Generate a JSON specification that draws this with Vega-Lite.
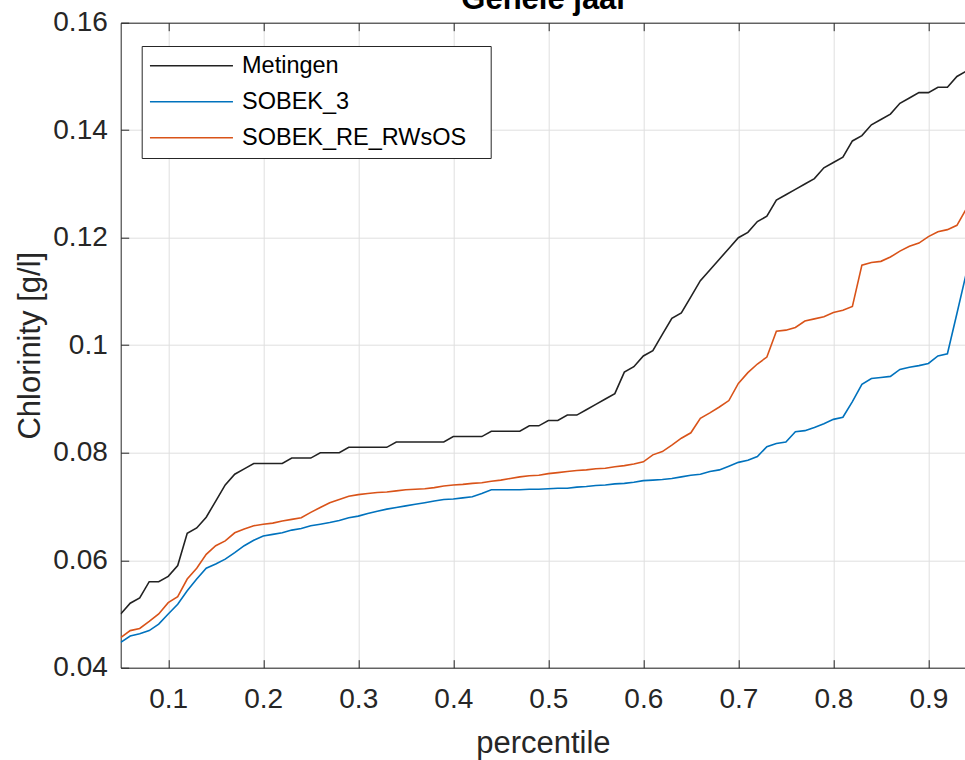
{
  "$schema": "https://vega.github.io/schema/vega-lite/v6.json",
  "width": 844.3,
  "height": 645,
  "autosize": {"type": "none"},
  "padding": {"left": 120.7, "top": 22.7, "right": 0, "bottom": 92.3},
  "background": "white",
  "config": {
    "view": {"stroke": null},
    "font": "Liberation Sans",
    "axis": {
      "labelFont": "Liberation Sans",
      "titleFont": "Liberation Sans",
      "labelColor": "#262626",
      "titleColor": "#262626",
      "domainColor": "#262626",
      "tickColor": "#262626",
      "domainWidth": 1,
      "tickWidth": 1,
      "gridColor": "#dfdfdf",
      "gridWidth": 1,
      "titleFontWeight": "normal"
    }
  },
  "title": {
    "text": "Gehele jaar",
    "font": "Liberation Sans",
    "fontSize": 31,
    "fontWeight": "bold",
    "color": "#000000",
    "anchor": "middle",
    "frame": "group",
    "baseline": "alphabetic",
    "offset": -31,
    "dx": 2
  },
  "data": {
    "values": [
      {"p":0.05,"s":"Metingen","v":0.050},{"p":0.06,"s":"Metingen","v":0.052},{"p":0.07,"s":"Metingen","v":0.053},{"p":0.08,"s":"Metingen","v":0.056},{"p":0.09,"s":"Metingen","v":0.056},
      {"p":0.10,"s":"Metingen","v":0.057},{"p":0.11,"s":"Metingen","v":0.059},{"p":0.12,"s":"Metingen","v":0.065},{"p":0.13,"s":"Metingen","v":0.066},{"p":0.14,"s":"Metingen","v":0.068},
      {"p":0.15,"s":"Metingen","v":0.071},{"p":0.16,"s":"Metingen","v":0.074},{"p":0.17,"s":"Metingen","v":0.076},{"p":0.18,"s":"Metingen","v":0.077},{"p":0.19,"s":"Metingen","v":0.078},
      {"p":0.20,"s":"Metingen","v":0.078},{"p":0.21,"s":"Metingen","v":0.078},{"p":0.22,"s":"Metingen","v":0.078},{"p":0.23,"s":"Metingen","v":0.079},{"p":0.24,"s":"Metingen","v":0.079},
      {"p":0.25,"s":"Metingen","v":0.079},{"p":0.26,"s":"Metingen","v":0.080},{"p":0.27,"s":"Metingen","v":0.080},{"p":0.28,"s":"Metingen","v":0.080},{"p":0.29,"s":"Metingen","v":0.081},
      {"p":0.30,"s":"Metingen","v":0.081},{"p":0.31,"s":"Metingen","v":0.081},{"p":0.32,"s":"Metingen","v":0.081},{"p":0.33,"s":"Metingen","v":0.081},{"p":0.34,"s":"Metingen","v":0.082},
      {"p":0.35,"s":"Metingen","v":0.082},{"p":0.36,"s":"Metingen","v":0.082},{"p":0.37,"s":"Metingen","v":0.082},{"p":0.38,"s":"Metingen","v":0.082},{"p":0.39,"s":"Metingen","v":0.082},
      {"p":0.40,"s":"Metingen","v":0.083},{"p":0.41,"s":"Metingen","v":0.083},{"p":0.42,"s":"Metingen","v":0.083},{"p":0.43,"s":"Metingen","v":0.083},{"p":0.44,"s":"Metingen","v":0.084},
      {"p":0.45,"s":"Metingen","v":0.084},{"p":0.46,"s":"Metingen","v":0.084},{"p":0.47,"s":"Metingen","v":0.084},{"p":0.48,"s":"Metingen","v":0.085},{"p":0.49,"s":"Metingen","v":0.085},
      {"p":0.50,"s":"Metingen","v":0.086},{"p":0.51,"s":"Metingen","v":0.086},{"p":0.52,"s":"Metingen","v":0.087},{"p":0.53,"s":"Metingen","v":0.087},{"p":0.54,"s":"Metingen","v":0.088},
      {"p":0.55,"s":"Metingen","v":0.089},{"p":0.56,"s":"Metingen","v":0.090},{"p":0.57,"s":"Metingen","v":0.091},{"p":0.58,"s":"Metingen","v":0.095},{"p":0.59,"s":"Metingen","v":0.096},
      {"p":0.60,"s":"Metingen","v":0.098},{"p":0.61,"s":"Metingen","v":0.099},{"p":0.62,"s":"Metingen","v":0.102},{"p":0.63,"s":"Metingen","v":0.105},{"p":0.64,"s":"Metingen","v":0.106},
      {"p":0.65,"s":"Metingen","v":0.109},{"p":0.66,"s":"Metingen","v":0.112},{"p":0.67,"s":"Metingen","v":0.114},{"p":0.68,"s":"Metingen","v":0.116},{"p":0.69,"s":"Metingen","v":0.118},
      {"p":0.70,"s":"Metingen","v":0.120},{"p":0.71,"s":"Metingen","v":0.121},{"p":0.72,"s":"Metingen","v":0.123},{"p":0.73,"s":"Metingen","v":0.124},{"p":0.74,"s":"Metingen","v":0.127},
      {"p":0.75,"s":"Metingen","v":0.128},{"p":0.76,"s":"Metingen","v":0.129},{"p":0.77,"s":"Metingen","v":0.130},{"p":0.78,"s":"Metingen","v":0.131},{"p":0.79,"s":"Metingen","v":0.133},
      {"p":0.80,"s":"Metingen","v":0.134},{"p":0.81,"s":"Metingen","v":0.135},{"p":0.82,"s":"Metingen","v":0.138},{"p":0.83,"s":"Metingen","v":0.139},{"p":0.84,"s":"Metingen","v":0.141},
      {"p":0.85,"s":"Metingen","v":0.142},{"p":0.86,"s":"Metingen","v":0.143},{"p":0.87,"s":"Metingen","v":0.145},{"p":0.88,"s":"Metingen","v":0.146},{"p":0.89,"s":"Metingen","v":0.147},
      {"p":0.90,"s":"Metingen","v":0.147},{"p":0.91,"s":"Metingen","v":0.148},{"p":0.92,"s":"Metingen","v":0.148},{"p":0.93,"s":"Metingen","v":0.150},{"p":0.94,"s":"Metingen","v":0.151},

      {"p":0.05,"s":"SOBEK_3","v":0.0447},{"p":0.06,"s":"SOBEK_3","v":0.0459},{"p":0.07,"s":"SOBEK_3","v":0.0463},{"p":0.08,"s":"SOBEK_3","v":0.0469},{"p":0.09,"s":"SOBEK_3","v":0.0481},
      {"p":0.10,"s":"SOBEK_3","v":0.0500},{"p":0.11,"s":"SOBEK_3","v":0.0518},{"p":0.12,"s":"SOBEK_3","v":0.0543},{"p":0.13,"s":"SOBEK_3","v":0.0565},{"p":0.14,"s":"SOBEK_3","v":0.0585},
      {"p":0.15,"s":"SOBEK_3","v":0.0593},{"p":0.16,"s":"SOBEK_3","v":0.0602},{"p":0.17,"s":"SOBEK_3","v":0.0614},{"p":0.18,"s":"SOBEK_3","v":0.0627},{"p":0.19,"s":"SOBEK_3","v":0.0637},
      {"p":0.20,"s":"SOBEK_3","v":0.0645},{"p":0.21,"s":"SOBEK_3","v":0.0648},{"p":0.22,"s":"SOBEK_3","v":0.0651},{"p":0.23,"s":"SOBEK_3","v":0.0656},{"p":0.24,"s":"SOBEK_3","v":0.0659},
      {"p":0.25,"s":"SOBEK_3","v":0.0664},{"p":0.26,"s":"SOBEK_3","v":0.0667},{"p":0.27,"s":"SOBEK_3","v":0.0670},{"p":0.28,"s":"SOBEK_3","v":0.0674},{"p":0.29,"s":"SOBEK_3","v":0.0679},
      {"p":0.30,"s":"SOBEK_3","v":0.0682},{"p":0.31,"s":"SOBEK_3","v":0.0687},{"p":0.32,"s":"SOBEK_3","v":0.0691},{"p":0.33,"s":"SOBEK_3","v":0.0695},{"p":0.34,"s":"SOBEK_3","v":0.0698},
      {"p":0.35,"s":"SOBEK_3","v":0.0701},{"p":0.36,"s":"SOBEK_3","v":0.0704},{"p":0.37,"s":"SOBEK_3","v":0.0707},{"p":0.38,"s":"SOBEK_3","v":0.0710},{"p":0.39,"s":"SOBEK_3","v":0.0713},
      {"p":0.40,"s":"SOBEK_3","v":0.0714},{"p":0.41,"s":"SOBEK_3","v":0.0716},{"p":0.42,"s":"SOBEK_3","v":0.0718},{"p":0.43,"s":"SOBEK_3","v":0.0724},{"p":0.44,"s":"SOBEK_3","v":0.0731},
      {"p":0.45,"s":"SOBEK_3","v":0.0731},{"p":0.46,"s":"SOBEK_3","v":0.0731},{"p":0.47,"s":"SOBEK_3","v":0.0731},{"p":0.48,"s":"SOBEK_3","v":0.0732},{"p":0.49,"s":"SOBEK_3","v":0.0732},
      {"p":0.50,"s":"SOBEK_3","v":0.0733},{"p":0.51,"s":"SOBEK_3","v":0.0734},{"p":0.52,"s":"SOBEK_3","v":0.0734},{"p":0.53,"s":"SOBEK_3","v":0.0736},{"p":0.54,"s":"SOBEK_3","v":0.0737},
      {"p":0.55,"s":"SOBEK_3","v":0.0739},{"p":0.56,"s":"SOBEK_3","v":0.0740},{"p":0.57,"s":"SOBEK_3","v":0.0742},{"p":0.58,"s":"SOBEK_3","v":0.0743},{"p":0.59,"s":"SOBEK_3","v":0.0745},
      {"p":0.60,"s":"SOBEK_3","v":0.0748},{"p":0.61,"s":"SOBEK_3","v":0.0749},{"p":0.62,"s":"SOBEK_3","v":0.0750},{"p":0.63,"s":"SOBEK_3","v":0.0752},{"p":0.64,"s":"SOBEK_3","v":0.0755},
      {"p":0.65,"s":"SOBEK_3","v":0.0758},{"p":0.66,"s":"SOBEK_3","v":0.0760},{"p":0.67,"s":"SOBEK_3","v":0.0765},{"p":0.68,"s":"SOBEK_3","v":0.0768},{"p":0.69,"s":"SOBEK_3","v":0.0775},
      {"p":0.70,"s":"SOBEK_3","v":0.0782},{"p":0.71,"s":"SOBEK_3","v":0.0786},{"p":0.72,"s":"SOBEK_3","v":0.0793},{"p":0.73,"s":"SOBEK_3","v":0.0811},{"p":0.74,"s":"SOBEK_3","v":0.0817},
      {"p":0.75,"s":"SOBEK_3","v":0.0820},{"p":0.76,"s":"SOBEK_3","v":0.0839},{"p":0.77,"s":"SOBEK_3","v":0.0841},{"p":0.78,"s":"SOBEK_3","v":0.0847},{"p":0.79,"s":"SOBEK_3","v":0.0854},
      {"p":0.80,"s":"SOBEK_3","v":0.0862},{"p":0.81,"s":"SOBEK_3","v":0.0866},{"p":0.82,"s":"SOBEK_3","v":0.0895},{"p":0.83,"s":"SOBEK_3","v":0.0927},{"p":0.84,"s":"SOBEK_3","v":0.0938},
      {"p":0.85,"s":"SOBEK_3","v":0.0940},{"p":0.86,"s":"SOBEK_3","v":0.0942},{"p":0.87,"s":"SOBEK_3","v":0.0955},{"p":0.88,"s":"SOBEK_3","v":0.0959},{"p":0.89,"s":"SOBEK_3","v":0.0962},
      {"p":0.90,"s":"SOBEK_3","v":0.0966},{"p":0.91,"s":"SOBEK_3","v":0.0980},{"p":0.92,"s":"SOBEK_3","v":0.0984},{"p":0.93,"s":"SOBEK_3","v":0.1059},{"p":0.94,"s":"SOBEK_3","v":0.1135},

      {"p":0.05,"s":"SOBEK_RE_RWsOS","v":0.0456},{"p":0.06,"s":"SOBEK_RE_RWsOS","v":0.0469},{"p":0.07,"s":"SOBEK_RE_RWsOS","v":0.0473},{"p":0.08,"s":"SOBEK_RE_RWsOS","v":0.0486},{"p":0.09,"s":"SOBEK_RE_RWsOS","v":0.0500},
      {"p":0.10,"s":"SOBEK_RE_RWsOS","v":0.0521},{"p":0.11,"s":"SOBEK_RE_RWsOS","v":0.0532},{"p":0.12,"s":"SOBEK_RE_RWsOS","v":0.0565},{"p":0.13,"s":"SOBEK_RE_RWsOS","v":0.0585},{"p":0.14,"s":"SOBEK_RE_RWsOS","v":0.0611},
      {"p":0.15,"s":"SOBEK_RE_RWsOS","v":0.0627},{"p":0.16,"s":"SOBEK_RE_RWsOS","v":0.0636},{"p":0.17,"s":"SOBEK_RE_RWsOS","v":0.0651},{"p":0.18,"s":"SOBEK_RE_RWsOS","v":0.0658},{"p":0.19,"s":"SOBEK_RE_RWsOS","v":0.0664},
      {"p":0.20,"s":"SOBEK_RE_RWsOS","v":0.0667},{"p":0.21,"s":"SOBEK_RE_RWsOS","v":0.0669},{"p":0.22,"s":"SOBEK_RE_RWsOS","v":0.0673},{"p":0.23,"s":"SOBEK_RE_RWsOS","v":0.0676},{"p":0.24,"s":"SOBEK_RE_RWsOS","v":0.0679},
      {"p":0.25,"s":"SOBEK_RE_RWsOS","v":0.0689},{"p":0.26,"s":"SOBEK_RE_RWsOS","v":0.0698},{"p":0.27,"s":"SOBEK_RE_RWsOS","v":0.0707},{"p":0.28,"s":"SOBEK_RE_RWsOS","v":0.0713},{"p":0.29,"s":"SOBEK_RE_RWsOS","v":0.0719},
      {"p":0.30,"s":"SOBEK_RE_RWsOS","v":0.0722},{"p":0.31,"s":"SOBEK_RE_RWsOS","v":0.0724},{"p":0.32,"s":"SOBEK_RE_RWsOS","v":0.0726},{"p":0.33,"s":"SOBEK_RE_RWsOS","v":0.0727},{"p":0.34,"s":"SOBEK_RE_RWsOS","v":0.0729},
      {"p":0.35,"s":"SOBEK_RE_RWsOS","v":0.0731},{"p":0.36,"s":"SOBEK_RE_RWsOS","v":0.0732},{"p":0.37,"s":"SOBEK_RE_RWsOS","v":0.0733},{"p":0.38,"s":"SOBEK_RE_RWsOS","v":0.0735},{"p":0.39,"s":"SOBEK_RE_RWsOS","v":0.0738},
      {"p":0.40,"s":"SOBEK_RE_RWsOS","v":0.0740},{"p":0.41,"s":"SOBEK_RE_RWsOS","v":0.0741},{"p":0.42,"s":"SOBEK_RE_RWsOS","v":0.0743},{"p":0.43,"s":"SOBEK_RE_RWsOS","v":0.0744},{"p":0.44,"s":"SOBEK_RE_RWsOS","v":0.0747},
      {"p":0.45,"s":"SOBEK_RE_RWsOS","v":0.0749},{"p":0.46,"s":"SOBEK_RE_RWsOS","v":0.0752},{"p":0.47,"s":"SOBEK_RE_RWsOS","v":0.0755},{"p":0.48,"s":"SOBEK_RE_RWsOS","v":0.0757},{"p":0.49,"s":"SOBEK_RE_RWsOS","v":0.0758},
      {"p":0.50,"s":"SOBEK_RE_RWsOS","v":0.0761},{"p":0.51,"s":"SOBEK_RE_RWsOS","v":0.0763},{"p":0.52,"s":"SOBEK_RE_RWsOS","v":0.0765},{"p":0.53,"s":"SOBEK_RE_RWsOS","v":0.0767},{"p":0.54,"s":"SOBEK_RE_RWsOS","v":0.0768},
      {"p":0.55,"s":"SOBEK_RE_RWsOS","v":0.0770},{"p":0.56,"s":"SOBEK_RE_RWsOS","v":0.0771},{"p":0.57,"s":"SOBEK_RE_RWsOS","v":0.0774},{"p":0.58,"s":"SOBEK_RE_RWsOS","v":0.0776},{"p":0.59,"s":"SOBEK_RE_RWsOS","v":0.0779},
      {"p":0.60,"s":"SOBEK_RE_RWsOS","v":0.0783},{"p":0.61,"s":"SOBEK_RE_RWsOS","v":0.0796},{"p":0.62,"s":"SOBEK_RE_RWsOS","v":0.0802},{"p":0.63,"s":"SOBEK_RE_RWsOS","v":0.0814},{"p":0.64,"s":"SOBEK_RE_RWsOS","v":0.0827},
      {"p":0.65,"s":"SOBEK_RE_RWsOS","v":0.0837},{"p":0.66,"s":"SOBEK_RE_RWsOS","v":0.0864},{"p":0.67,"s":"SOBEK_RE_RWsOS","v":0.0874},{"p":0.68,"s":"SOBEK_RE_RWsOS","v":0.0885},{"p":0.69,"s":"SOBEK_RE_RWsOS","v":0.0897},
      {"p":0.70,"s":"SOBEK_RE_RWsOS","v":0.0929},{"p":0.71,"s":"SOBEK_RE_RWsOS","v":0.0949},{"p":0.72,"s":"SOBEK_RE_RWsOS","v":0.0965},{"p":0.73,"s":"SOBEK_RE_RWsOS","v":0.0978},{"p":0.74,"s":"SOBEK_RE_RWsOS","v":0.1026},
      {"p":0.75,"s":"SOBEK_RE_RWsOS","v":0.1028},{"p":0.76,"s":"SOBEK_RE_RWsOS","v":0.1033},{"p":0.77,"s":"SOBEK_RE_RWsOS","v":0.1045},{"p":0.78,"s":"SOBEK_RE_RWsOS","v":0.1049},{"p":0.79,"s":"SOBEK_RE_RWsOS","v":0.1053},
      {"p":0.80,"s":"SOBEK_RE_RWsOS","v":0.1061},{"p":0.81,"s":"SOBEK_RE_RWsOS","v":0.1065},{"p":0.82,"s":"SOBEK_RE_RWsOS","v":0.1072},{"p":0.83,"s":"SOBEK_RE_RWsOS","v":0.1149},{"p":0.84,"s":"SOBEK_RE_RWsOS","v":0.1154},
      {"p":0.85,"s":"SOBEK_RE_RWsOS","v":0.1156},{"p":0.86,"s":"SOBEK_RE_RWsOS","v":0.1164},{"p":0.87,"s":"SOBEK_RE_RWsOS","v":0.1175},{"p":0.88,"s":"SOBEK_RE_RWsOS","v":0.1184},{"p":0.89,"s":"SOBEK_RE_RWsOS","v":0.1190},
      {"p":0.90,"s":"SOBEK_RE_RWsOS","v":0.1202},{"p":0.91,"s":"SOBEK_RE_RWsOS","v":0.1211},{"p":0.92,"s":"SOBEK_RE_RWsOS","v":0.1215},{"p":0.93,"s":"SOBEK_RE_RWsOS","v":0.1223},{"p":0.94,"s":"SOBEK_RE_RWsOS","v":0.1254}
    ]
  },
  "resolve": {"axis": {"x": "independent"}},
  "layer": [
    {
      "mark": {"type": "line", "strokeWidth": 1.6, "clip": true},
      "encoding": {
        "x": {
          "field": "p", "type": "quantitative",
          "scale": {"domain": [0.05, 0.9385], "nice": false, "zero": false},
          "axis": {
            "orient": "bottom",
            "values": [0.1, 0.2, 0.3, 0.4, 0.5, 0.6, 0.7, 0.8, 0.9],
            "format": ".1f",
            "labelFontSize": 28,
            "tickSize": -8,
            "labelPadding": 26,
            "grid": true,
            "title": "percentile",
            "titleFontSize": 31,
            "titlePadding": 15
          }
        },
        "y": {
          "field": "v", "type": "quantitative",
          "scale": {"domain": [0.04, 0.16], "nice": false, "zero": false},
          "axis": {
            "values": [0.04, 0.06, 0.08, 0.1, 0.12, 0.14, 0.16],
            "format": ".2~f",
            "labelFontSize": 28,
            "tickSize": -8,
            "labelPadding": 21.4,
            "grid": true,
            "title": "Chlorinity [g/l]",
            "titleFontSize": 31,
            "titlePadding": 6
          }
        },
        "color": {
          "field": "s", "type": "nominal",
          "scale": {"domain": ["Metingen", "SOBEK_3", "SOBEK_RE_RWsOS"], "range": ["#222222", "#0072BD", "#D95319"]},
          "legend": {
            "orient": "none",
            "legendX": 21,
            "legendY": 23.3,
            "title": " ",
            "titleOrient": "right",
            "titleFontSize": 24,
            "titlePadding": 17,
            "labelFont": "Liberation Sans",
            "labelFontSize": 23.5,
            "labelLimit": 400,
            "labelColor": "#000000",
            "symbolType": "M-1.15,0H7.15",
            "symbolSize": 400,
            "symbolStrokeWidth": 1.6,
            "strokeColor": "#262626",
            "fillColor": "#ffffff",
            "padding": 8,
            "rowPadding": 11,
            "labelOffset": 68.8,
            "cornerRadius": 0
          }
        }
      }
    },
    {
      "mark": {"type": "rule", "opacity": 0},
      "encoding": {
        "x": {
          "field": "p", "type": "quantitative",
          "axis": {
            "orient": "top",
            "values": [0.1, 0.2, 0.3, 0.4, 0.5, 0.6, 0.7, 0.8, 0.9],
            "labels": false,
            "tickSize": -8,
            "grid": false,
            "title": null
          }
        }
      }
    }
  ]
}
